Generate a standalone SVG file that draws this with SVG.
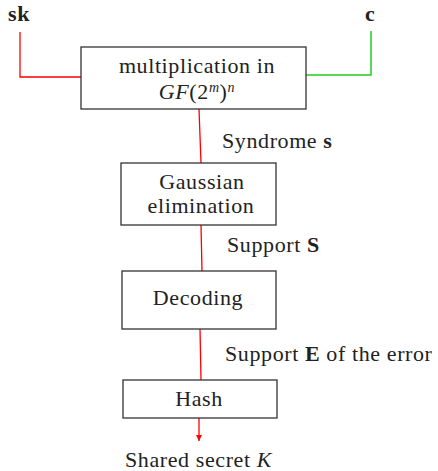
<svg xmlns="http://www.w3.org/2000/svg" width="438" height="471" viewBox="0 0 438 471">
<defs>
<style>
text{font-family:"Liberation Serif","DejaVu Serif",serif;font-size:22px;letter-spacing:0.6px;fill:#222}
.c{text-anchor:middle}
.b{font-weight:bold}
.i{font-style:italic}
rect{fill:#fff;stroke:#333;stroke-width:1.3}
.r{stroke:#f00;stroke-width:1.3;fill:none}
.g{stroke:#22cc22;stroke-width:1.5;fill:none}
</style>
<marker id="ah" markerWidth="8" markerHeight="8" refX="6" refY="3" orient="auto" markerUnits="userSpaceOnUse"><path d="M0,0 L6,3 L0,6 Z" fill="#f00"/></marker>
</defs>
<g id="connectors">
<polyline class="r" points="20,32 20,77 82,77"/>
<polyline class="g" points="371,31 371,75 305,75"/>
<line class="r" x1="199" y1="109" x2="201" y2="163"/>
<line class="r" x1="201" y1="225" x2="202" y2="271"/>
<line class="r" x1="200" y1="329" x2="201" y2="380"/>
<line class="r" x1="199" y1="418" x2="199" y2="441" marker-end="url(#ah)"/>
<text x="222" y="148">Syndrome <tspan class="b">s</tspan></text>
<text x="227" y="252">Support <tspan class="b">S</tspan></text>
<text x="225" y="361">Support <tspan class="b">E</tspan> of the error</text>
</g>
<g id="sk"><text class="b" x="8" y="21">sk</text></g>
<g id="c"><text class="b" x="365" y="21">c</text></g>
<g id="mult">
<rect x="81" y="47" width="225" height="62"/>
<text class="c" x="197" y="73">multiplication in</text>
<text class="c" x="197" y="99"><tspan class="i">GF</tspan>(2<tspan class="i" font-size="14" dy="-7">m</tspan><tspan dy="7">)</tspan><tspan class="i" font-size="14" dy="-7">n</tspan></text>
</g>
<g id="gauss">
<rect x="121" y="163" width="155" height="62"/>
<text class="c" x="202" y="189">Gaussian</text>
<text class="c" x="201" y="213">elimination</text>
</g>
<g id="decoding">
<rect x="122" y="271" width="154" height="58"/>
<text class="c" x="198" y="305">Decoding</text>
</g>
<g id="hash">
<rect x="123" y="380" width="154" height="38"/>
<text class="c" x="199" y="406">Hash</text>
</g>
<g id="out"><text x="125" y="467">Shared secret <tspan class="i">K</tspan></text></g>
</svg>
